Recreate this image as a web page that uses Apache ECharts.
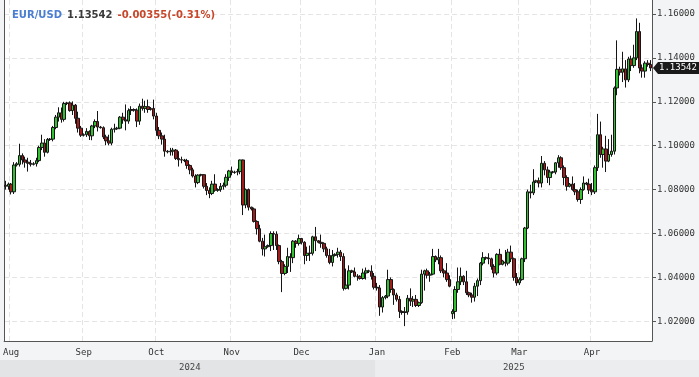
<!DOCTYPE html>
<html>
<head>
<meta charset="utf-8">
<title>EUR/USD</title>
<script src="https://cdn.jsdelivr.net/npm/echarts@6/dist/echarts.min.js"></script>
<style>
  html, body { margin: 0; padding: 0; background: #f3f4f6; }
  #chart { width: 699px; height: 377px; }
</style>
</head>
<body>
<div id="chart"></div>
<script>
  const symbol = 'EUR/USD'
  const lastPrice = 1.13542
  const changeText = '-0.00355(-0.31%)'
  const yTicks = [1.02, 1.04, 1.06, 1.08, 1.10, 1.12, 1.14, 1.16]
  const monthNames = ['Jan', 'Feb', 'Mar', 'Apr', 'May', 'Jun', 'Jul', 'Aug', 'Sep', 'Oct', 'Nov', 'Dec']

  // daily candles, [open, close, low, high] (feed has Sunday candles, no Saturdays)
  const jul24 = [
    [1.0820, 1.0815, 1.0800, 1.0840], [1.0815, 1.0825, 1.0800, 1.0832]
  ]
  const aug24 = [
    [1.0825, 1.0790, 1.0778, 1.0830], [1.0790, 1.0912, 1.0780, 1.0925], [1.0912, 1.0918, 1.0905, 1.0925],
    [1.0915, 1.0955, 1.0905, 1.1009], [1.0955, 1.0935, 1.0915, 1.0965], [1.0935, 1.0925, 1.0900, 1.0950],
    [1.0925, 1.0920, 1.0882, 1.0945], [1.0920, 1.0915, 1.0905, 1.0935], [1.0915, 1.0918, 1.0910, 1.0925],
    [1.0918, 1.0932, 1.0905, 1.0945], [1.0932, 1.0992, 1.0925, 1.1000], [1.0992, 1.1012, 1.0980, 1.1050],
    [1.1012, 1.0970, 1.0950, 1.1030], [1.0970, 1.1028, 1.0965, 1.1035], [1.1028, 1.1030, 1.1022, 1.1035],
    [1.1030, 1.1083, 1.1020, 1.1090], [1.1083, 1.1130, 1.1075, 1.1140], [1.1130, 1.1150, 1.1110, 1.1175],
    [1.1150, 1.1120, 1.1105, 1.1174], [1.1120, 1.1192, 1.1110, 1.1200], [1.1192, 1.1195, 1.1185, 1.1200],
    [1.1195, 1.1160, 1.1155, 1.1202], [1.1160, 1.1185, 1.1140, 1.1202], [1.1185, 1.1125, 1.1100, 1.1190],
    [1.1125, 1.1080, 1.1060, 1.1155], [1.1080, 1.1048, 1.1040, 1.1090]
  ]
  const sep24 = [
    [1.1048, 1.1050, 1.1042, 1.1056], [1.1050, 1.1065, 1.1040, 1.1080], [1.1065, 1.1045, 1.1026, 1.1070],
    [1.1045, 1.1090, 1.1025, 1.1095], [1.1090, 1.1110, 1.1080, 1.1120], [1.1110, 1.1085, 1.1065, 1.1158],
    [1.1085, 1.1082, 1.1078, 1.1090], [1.1082, 1.1040, 1.1030, 1.1088], [1.1040, 1.1022, 1.1002, 1.1050],
    [1.1022, 1.1012, 1.1002, 1.1050], [1.1012, 1.1075, 1.1002, 1.1082], [1.1075, 1.1077, 1.1060, 1.1100],
    [1.1077, 1.1080, 1.1072, 1.1086], [1.1080, 1.1130, 1.1075, 1.1135], [1.1130, 1.1118, 1.1100, 1.1150],
    [1.1118, 1.1112, 1.1070, 1.1188], [1.1112, 1.1160, 1.1100, 1.1170], [1.1160, 1.1165, 1.1140, 1.1180],
    [1.1165, 1.1162, 1.1155, 1.1170], [1.1162, 1.1112, 1.1085, 1.1170], [1.1112, 1.1180, 1.1095, 1.1192],
    [1.1180, 1.1170, 1.1160, 1.1214], [1.1170, 1.1178, 1.1150, 1.1205], [1.1178, 1.1165, 1.1150, 1.1210],
    [1.1165, 1.1170, 1.1160, 1.1176], [1.1170, 1.1135, 1.1120, 1.1210]
  ]
  const oct24 = [
    [1.1135, 1.1070, 1.1045, 1.1150], [1.1070, 1.1045, 1.1030, 1.1085], [1.1045, 1.1030, 1.1005, 1.1060],
    [1.1030, 1.0975, 1.0950, 1.1050], [1.0975, 1.0972, 1.0965, 1.0980], [1.0972, 1.0975, 1.0955, 1.0990],
    [1.0975, 1.0980, 1.0955, 1.0990], [1.0980, 1.0942, 1.0935, 1.0985], [1.0942, 1.0936, 1.0905, 1.0975],
    [1.0936, 1.0935, 1.0920, 1.0950], [1.0935, 1.0932, 1.0925, 1.0940], [1.0932, 1.0910, 1.0895, 1.0940],
    [1.0910, 1.0890, 1.0870, 1.0915], [1.0890, 1.0862, 1.0855, 1.0900], [1.0862, 1.0832, 1.0810, 1.0870],
    [1.0832, 1.0866, 1.0825, 1.0870], [1.0866, 1.0868, 1.0860, 1.0872], [1.0868, 1.0815, 1.0805, 1.0870],
    [1.0815, 1.0796, 1.0775, 1.0830], [1.0796, 1.0782, 1.0761, 1.0810], [1.0782, 1.0825, 1.0775, 1.0840],
    [1.0825, 1.0797, 1.0790, 1.0870], [1.0797, 1.0800, 1.0790, 1.0806], [1.0800, 1.0815, 1.0790, 1.0830],
    [1.0815, 1.0820, 1.0800, 1.0832], [1.0820, 1.0856, 1.0810, 1.0870], [1.0856, 1.0885, 1.0840, 1.0890]
  ]
  const nov24 = [
    [1.0885, 1.0878, 1.0865, 1.0905], [1.0878, 1.0880, 1.0872, 1.0886], [1.0880, 1.0882, 1.0865, 1.0895],
    [1.0882, 1.0935, 1.0870, 1.0937], [1.0935, 1.0730, 1.0684, 1.0937], [1.0730, 1.0800, 1.0715, 1.0805],
    [1.0800, 1.0720, 1.0705, 1.0805], [1.0720, 1.0712, 1.0705, 1.0722], [1.0712, 1.0655, 1.0650, 1.0718],
    [1.0655, 1.0622, 1.0595, 1.0660], [1.0622, 1.0565, 1.0560, 1.0640], [1.0565, 1.0530, 1.0500, 1.0580],
    [1.0530, 1.0540, 1.0495, 1.0595], [1.0540, 1.0545, 1.0535, 1.0550], [1.0545, 1.0600, 1.0520, 1.0610],
    [1.0600, 1.0597, 1.0525, 1.0610], [1.0597, 1.0545, 1.0525, 1.0610], [1.0545, 1.0472, 1.0460, 1.0550],
    [1.0472, 1.0418, 1.0333, 1.0480], [1.0418, 1.0450, 1.0410, 1.0460], [1.0450, 1.0495, 1.0420, 1.0535],
    [1.0495, 1.0490, 1.0425, 1.0510], [1.0490, 1.0565, 1.0465, 1.0570], [1.0565, 1.0555, 1.0535, 1.0570],
    [1.0555, 1.0577, 1.0545, 1.0595]
  ]
  const dec24 = [
    [1.0577, 1.0560, 1.0550, 1.0580], [1.0560, 1.0500, 1.0460, 1.0565], [1.0500, 1.0510, 1.0475, 1.0540],
    [1.0510, 1.0510, 1.0475, 1.0545], [1.0510, 1.0585, 1.0500, 1.0590], [1.0585, 1.0567, 1.0520, 1.0630],
    [1.0567, 1.0560, 1.0555, 1.0570], [1.0560, 1.0555, 1.0535, 1.0595], [1.0555, 1.0530, 1.0515, 1.0560],
    [1.0530, 1.0500, 1.0490, 1.0540], [1.0500, 1.0468, 1.0460, 1.0530], [1.0468, 1.0500, 1.0450, 1.0525],
    [1.0500, 1.0505, 1.0495, 1.0510], [1.0505, 1.0515, 1.0490, 1.0535], [1.0515, 1.0495, 1.0475, 1.0525],
    [1.0495, 1.0350, 1.0340, 1.0510], [1.0350, 1.0365, 1.0345, 1.0440], [1.0365, 1.0430, 1.0345, 1.0455],
    [1.0430, 1.0425, 1.0420, 1.0435], [1.0425, 1.0405, 1.0400, 1.0445], [1.0405, 1.0405, 1.0385, 1.0415],
    [1.0405, 1.0395, 1.0390, 1.0410], [1.0395, 1.0420, 1.0390, 1.0440], [1.0420, 1.0430, 1.0390, 1.0445],
    [1.0430, 1.0428, 1.0420, 1.0435], [1.0428, 1.0405, 1.0390, 1.0455], [1.0405, 1.0355, 1.0345, 1.0420]
  ]
  const jan25 = [
    [1.0355, 1.0352, 1.0340, 1.0375], [1.0352, 1.0265, 1.0225, 1.0365], [1.0265, 1.0308, 1.0240, 1.0315],
    [1.0308, 1.0315, 1.0300, 1.0320], [1.0315, 1.0390, 1.0305, 1.0435], [1.0390, 1.0345, 1.0330, 1.0400],
    [1.0345, 1.0320, 1.0275, 1.0350], [1.0320, 1.0300, 1.0290, 1.0330], [1.0300, 1.0245, 1.0215, 1.0315],
    [1.0245, 1.0240, 1.0230, 1.0250], [1.0240, 1.0243, 1.0178, 1.0265], [1.0243, 1.0305, 1.0230, 1.0320],
    [1.0305, 1.0292, 1.0270, 1.0350], [1.0292, 1.0300, 1.0265, 1.0315], [1.0300, 1.0272, 1.0265, 1.0320],
    [1.0272, 1.0285, 1.0265, 1.0290], [1.0285, 1.0415, 1.0280, 1.0435], [1.0415, 1.0430, 1.0340, 1.0435],
    [1.0430, 1.0410, 1.0395, 1.0440], [1.0410, 1.0415, 1.0380, 1.0425], [1.0415, 1.0495, 1.0410, 1.0530],
    [1.0495, 1.0480, 1.0470, 1.0500], [1.0480, 1.0490, 1.0460, 1.0530], [1.0490, 1.0430, 1.0420, 1.0500],
    [1.0430, 1.0420, 1.0400, 1.0440], [1.0420, 1.0390, 1.0380, 1.0465], [1.0390, 1.0360, 1.0355, 1.0410]
  ]
  const feb25 = [
    [1.0235, 1.0245, 1.0210, 1.0255], [1.0245, 1.0345, 1.0212, 1.0360], [1.0345, 1.0380, 1.0330, 1.0445],
    [1.0380, 1.0405, 1.0365, 1.0445], [1.0405, 1.0380, 1.0365, 1.0410], [1.0380, 1.0330, 1.0320, 1.0430],
    [1.0330, 1.0320, 1.0310, 1.0335], [1.0320, 1.0310, 1.0285, 1.0330], [1.0310, 1.0360, 1.0290, 1.0375],
    [1.0360, 1.0385, 1.0315, 1.0395], [1.0385, 1.0465, 1.0365, 1.0470], [1.0465, 1.0490, 1.0455, 1.0515],
    [1.0490, 1.0488, 1.0480, 1.0495], [1.0488, 1.0485, 1.0460, 1.0510], [1.0485, 1.0450, 1.0435, 1.0490],
    [1.0450, 1.0420, 1.0400, 1.0460], [1.0420, 1.0505, 1.0410, 1.0510], [1.0505, 1.0460, 1.0455, 1.0530],
    [1.0460, 1.0475, 1.0455, 1.0480], [1.0470, 1.0465, 1.0450, 1.0525], [1.0465, 1.0515, 1.0455, 1.0530],
    [1.0515, 1.0485, 1.0470, 1.0545], [1.0485, 1.0400, 1.0385, 1.0490], [1.0400, 1.0375, 1.0362, 1.0420]
  ]
  const mar25 = [
    [1.0375, 1.0390, 1.0365, 1.0400], [1.0390, 1.0485, 1.0385, 1.0490], [1.0485, 1.0625, 1.0470, 1.0630],
    [1.0625, 1.0790, 1.0620, 1.0800], [1.0790, 1.0785, 1.0760, 1.0822], [1.0785, 1.0835, 1.0775, 1.0893],
    [1.0835, 1.0840, 1.0830, 1.0845], [1.0840, 1.0830, 1.0810, 1.0855], [1.0830, 1.0920, 1.0810, 1.0953],
    [1.0920, 1.0890, 1.0865, 1.0930], [1.0890, 1.0855, 1.0830, 1.0905], [1.0855, 1.0880, 1.0820, 1.0890],
    [1.0880, 1.0880, 1.0873, 1.0885], [1.0880, 1.0922, 1.0870, 1.0925], [1.0922, 1.0945, 1.0900, 1.0957],
    [1.0945, 1.0900, 1.0890, 1.0952], [1.0900, 1.0855, 1.0820, 1.0910], [1.0855, 1.0815, 1.0795, 1.0865],
    [1.0815, 1.0825, 1.0810, 1.0830], [1.0825, 1.0800, 1.0795, 1.0860], [1.0800, 1.0790, 1.0775, 1.0830],
    [1.0790, 1.0755, 1.0745, 1.0800], [1.0755, 1.0800, 1.0735, 1.0810], [1.0800, 1.0830, 1.0795, 1.0860],
    [1.0830, 1.0825, 1.0820, 1.0835], [1.0825, 1.0798, 1.0780, 1.0850]
  ]
  const apr25 = [
    [1.0798, 1.0790, 1.0775, 1.0830], [1.0790, 1.0900, 1.0780, 1.0910], [1.0900, 1.1050, 1.0885, 1.1145],
    [1.1050, 1.0960, 1.0945, 1.1110], [1.0960, 1.0985, 1.0900, 1.0995], [1.0985, 1.0930, 1.0880, 1.1045],
    [1.0930, 1.0960, 1.0925, 1.1030], [1.0960, 1.0975, 1.0950, 1.1050], [1.0975, 1.1263, 1.0960, 1.1270],
    [1.1263, 1.1348, 1.1230, 1.1480], [1.1348, 1.1335, 1.1320, 1.1360], [1.1335, 1.1350, 1.1290, 1.1428],
    [1.1350, 1.1300, 1.1265, 1.1390], [1.1300, 1.1395, 1.1290, 1.1405], [1.1395, 1.1365, 1.1340, 1.1410],
    [1.1365, 1.1400, 1.1355, 1.1460], [1.1400, 1.1520, 1.1390, 1.1580], [1.1520, 1.1354, 1.1330, 1.1560],
    [1.1354, 1.1340, 1.1310, 1.1370], [1.1340, 1.1376, 1.1310, 1.1385], [1.1376, 1.1370, 1.1360, 1.1390],
    [1.1370, 1.13542, 1.1340, 1.1390]
  ]

  const candles = [].concat(jul24, aug24, sep24, oct24, nov24, dec24, jan25, feb25, mar25, apr25)

  // one category per candle, starting 2024-07-30, skipping Saturdays
  const dates = []
  for (let d = new Date(Date.UTC(2024, 6, 30)); dates.length < candles.length; d.setUTCDate(d.getUTCDate() + 1)) {
    if (d.getUTCDay() !== 6) dates.push(d.toISOString().slice(0, 10))
  }

  function isMonthStart(i) {
    return i > 0 && dates[i].slice(5, 7) !== dates[i - 1].slice(5, 7)
  }

  const axisFont = { fontFamily: 'DejaVu Sans Mono', fontSize: 9, color: '#333' }
  const gridLine = { color: '#e4e4e4', type: [5, 3], width: 1 }
  const yMin = 1.01103
  const yMax = 1.16638

  const chart = echarts.init(document.getElementById('chart'))
  chart.setOption({
    animation: false,
    backgroundColor: '#f3f4f6',
    title: {
      left: 7,
      top: 1,
      text: '{a|' + symbol + '} {b|' + lastPrice.toFixed(5) + '} {c|' + changeText + '}',
      textStyle: {
        rich: {
          a: { fontFamily: 'DejaVu Sans', fontWeight: 'bold', fontSize: 10, color: '#4a7ed2' },
          b: { fontFamily: 'DejaVu Sans', fontWeight: 'bold', fontSize: 10, color: '#3a3a3a' },
          c: { fontFamily: 'DejaVu Sans', fontWeight: 'bold', fontSize: 10, color: '#c8472a' }
        }
      }
    },
    grid: {
      left: 3, right: 47, top: 0, bottom: 36,
      show: true, backgroundColor: '#ffffff', borderWidth: 0
    },
    xAxis: {
      type: 'category',
      data: dates,
      boundaryGap: true,
      axisLine: { lineStyle: { color: '#555' } },
      axisTick: { interval: isMonthStart, length: 4, lineStyle: { color: '#555' } },
      axisLabel: Object.assign({
        interval: isMonthStart,
        margin: 7,
        formatter: v => monthNames[+v.slice(5, 7) - 1]
      }, axisFont),
      splitLine: { show: true, interval: isMonthStart, lineStyle: gridLine }
    },
    yAxis: [{
      type: 'value',
      position: 'right',
      min: yMin,
      max: yMax,
      axisLine: { show: true, lineStyle: { color: '#555' } },
      axisTick: { show: true, length: 4, customValues: yTicks, lineStyle: { color: '#555' } },
      axisLabel: Object.assign({
        margin: 5,
        customValues: yTicks,
        formatter: v => v.toFixed(5)
      }, axisFont),
      splitLine: { show: true, lineStyle: gridLine }
    }, {
      type: 'value',
      position: 'left',
      min: yMin,
      max: yMax,
      axisLine: { show: true, lineStyle: { color: '#555' } },
      axisTick: { show: false },
      axisLabel: { show: false },
      splitLine: { show: false }
    }],
    series: [{
      type: 'candlestick',
      data: candles,
      barWidth: 3,
      itemStyle: {
        color: '#2fc12f',
        color0: '#a51b1b',
        borderColor: '#151515',
        borderColor0: '#151515',
        borderWidth: 1
      }
    }]
  })

  // year band under the month labels and the last price tag, placed from the axes
  const half = (chart.convertToPixel({ xAxisIndex: 0 }, dates[1]) - chart.convertToPixel({ xAxisIndex: 0 }, dates[0])) / 2
  const yearStart = dates.indexOf('2025-01-01')
  const yearX = chart.convertToPixel({ xAxisIndex: 0 }, dates[yearStart]) - half
  const plotLeft = chart.convertToPixel({ xAxisIndex: 0 }, dates[0]) - half
  const plotRight = chart.convertToPixel({ xAxisIndex: 0 }, dates[dates.length - 1]) + half
  const priceY = chart.convertToPixel({ yAxisIndex: 0 }, lastPrice)
  const yearFont = { fontFamily: 'DejaVu Sans Mono', fontSize: 9, fill: '#444', align: 'center', verticalAlign: 'middle' }

  chart.setOption({
    graphic: [
      { type: 'rect', shape: { x: 0, y: 360, width: yearX, height: 17 }, style: { fill: '#e3e4e6' }, silent: true },
      { type: 'rect', shape: { x: yearX, y: 360, width: 699 - yearX, height: 17 }, style: { fill: '#ecedef' }, silent: true },
      { type: 'text', x: (plotLeft + yearX) / 2, y: 368, style: Object.assign({ text: '2024' }, yearFont) },
      { type: 'text', x: (yearX + plotRight) / 2, y: 368, style: Object.assign({ text: '2025' }, yearFont) },
      {
        type: 'polygon',
        shape: { points: [[plotRight + 1, priceY], [plotRight + 6, priceY - 6], [699, priceY - 6], [699, priceY + 6], [plotRight + 6, priceY + 6]] },
        style: { fill: '#1a1a1a' },
        silent: true
      },
      {
        type: 'text', x: plotRight + 7, y: priceY,
        style: { text: lastPrice.toFixed(5), fontFamily: 'DejaVu Sans Mono', fontSize: 9, fill: '#fff', verticalAlign: 'middle' }
      }
    ]
  })
</script>
</body>
</html>
